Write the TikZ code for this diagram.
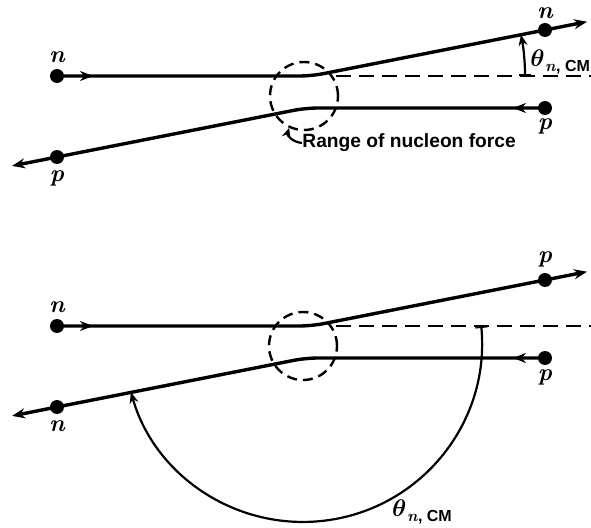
\documentclass[tikz,border=0pt]{standalone}
\usepackage{fontspec}
\setsansfont{Liberation Sans}
\usetikzlibrary{arrows.meta,decorations.markings}
\newcommand{\thlabel}{{\fontsize{12}{12}\selectfont\boldmath$\theta$}\kern0.3pt\raisebox{-2.5pt}{\fontsize{8}{8}\selectfont\textbf{\textit{n}}\sffamily\bfseries, CM}}
\begin{document}
\begin{tikzpicture}[x=0.5pt,y=0.5pt,
  traj/.style={line width=1.7pt, rounded corners=6pt},
  dot/.style={circle,fill,inner sep=0pt,minimum size=7pt},
  lbl/.style={font=\fontsize{12}{12}\selectfont\bfseries\itshape, inner sep=0pt},
  rangecirc/.style={draw, circle, minimum size=34pt, inner sep=0pt, dash pattern=on 5pt off 3pt, line width=1.2pt},
  axisline/.style={dash pattern=on 7.5pt off 4pt, line width=1.3pt},
  endtip/.style={-{Stealth[length=6.5pt,width=5pt]}},
  midarrow/.style={postaction={decorate},decoration={markings,mark=at position #1 with {\arrow{Stealth[length=6.5pt,width=5pt]}}}},
  angarc/.style={line width=1.1pt},
  bartip/.style={{Bar[width=6pt]}-{Stealth[length=5.5pt,width=4.5pt]}},
  anglbl/.style={inner sep=0pt},
]
\useasboundingbox (0,0) rectangle (591,527);

% ---------- top panel ----------
\node[dot] (n1) at (57,451) {};
\node[dot] (n2) at (545,497) {};
\node[dot] (p1) at (545,419) {};
\node[dot] (p2) at (57,370) {};
\coordinate (c1) at (311.5,451);
\coordinate (c2) at (305.7,419);
\coordinate (t1) at (587,505.3);
\coordinate (t2) at (12,361.1);
\draw[traj, midarrow=18pt, endtip] (n1.center) -- (c1) -- (n2.center) -- (t1);
\draw[traj, midarrow=16pt, endtip] (p1.center) -- (c2) -- (p2.center) -- (t2);
\coordinate (d1) at (336,451);
\coordinate (d2) at (591,451);
\draw[axisline] (d1) -- (d2);
\node[rangecirc] (r1) at (304,431) {};
\node[lbl] (ln1) at (57,470) {n};
\node[lbl] (ln2) at (545,514) {n};
\node[lbl] (lp1) at (545,401) {p};
\node[lbl] (lp2) at (57,349) {p};
\node[anchor=west, font=\sffamily\bfseries\fontsize{9.6}{10}\selectfont, inner sep=0pt] (rl) at (302,384) {Range of nucleon force};
\draw[angarc, -{Stealth[length=5pt,width=4.5pt]}] (rl.west) .. controls (292,385) and (287,392) .. (r1.245);
\coordinate (a1) at (525,451);
\draw[angarc, bartip] (a1) arc (0:11.15:213.5);
\node[anglbl, anchor=west] (th1) at (530,465) {\thlabel};

% ---------- bottom panel ----------
\node[dot] (n3) at (57,201) {};
\node[dot] (p3) at (545,247) {};
\node[dot] (p4) at (545,169) {};
\node[dot] (n4) at (57,120) {};
\coordinate (c3) at (311.5,201);
\coordinate (c4) at (305.7,169);
\coordinate (t3) at (587,255.3);
\coordinate (t4) at (12,111.1);
\draw[traj, midarrow=18pt, endtip] (n3.center) -- (c3) -- (p3.center) -- (t3);
\draw[traj, midarrow=16pt, endtip] (p4.center) -- (c4) -- (n4.center) -- (t4);
\coordinate (d3) at (336,201);
\coordinate (d4) at (591,201);
\draw[axisline] (d3) -- (d4);
\node[rangecirc] (r2) at (303,181) {};
\node[lbl] (ln3) at (57,220) {n};
\node[lbl] (lp3) at (545,268) {p};
\node[lbl] (lp4) at (545,150) {p};
\node[lbl] (ln4) at (57,101) {n};
\coordinate (a2) at (481.2,201.2);
\draw[angarc, bartip] (a2) arc (5.5:-164:179);
\node[anglbl] (th2) at (422,15) {\thlabel};
\end{tikzpicture}
\end{document}
